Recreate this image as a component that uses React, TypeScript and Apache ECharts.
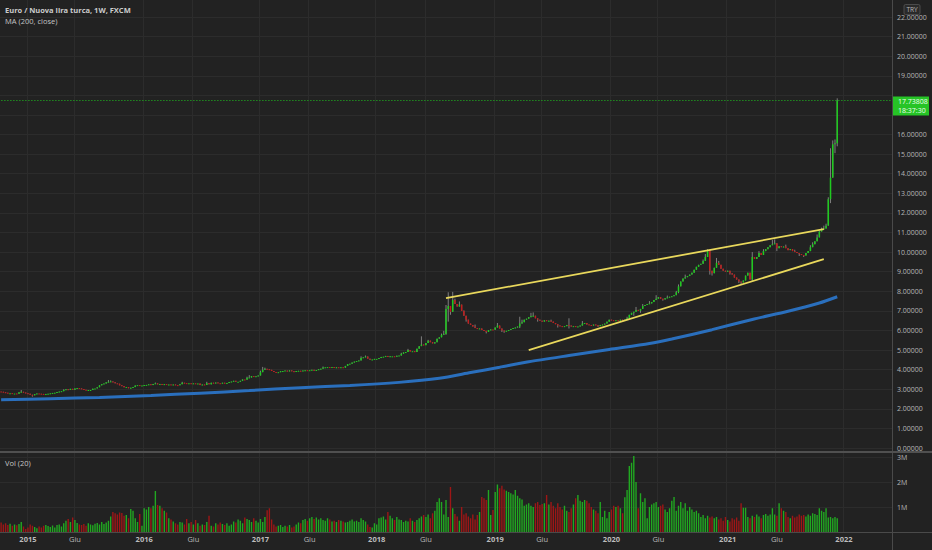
import React, { useEffect, useRef } from 'react';
import * as echarts from 'echarts';

const FONT = '"Open Sans", "Noto Sans", "Liberation Sans", sans-serif';

// ---- data ----
const START_UTC = Date.UTC(2014, 9, 13); // first weekly bar (Mon 13 Oct 2014)
const WEEK_SLOTS = 399; // axis extends past the last bar

const tickIndex = [12, 33, 64, 86, 116, 138, 168, 190, 221, 242, 273, 294, 325, 347, 377];
const tickText = ['2015', 'Giu', '2016', 'Giu', '2017', 'Giu', '2018', 'Giu', '2019', 'Giu', '2020', 'Giu', '2021', 'Giu', '2022'];

const firstOpen = 2.88;
const closes = [
  2.87, 2.85, 2.82, 2.80, 2.80, 2.78, 2.78, 2.77, 2.84, 2.87,
  2.83, 2.80, 2.77, 2.72, 2.69, 2.75, 2.78, 2.77, 2.76, 2.75,
  2.76, 2.77, 2.79, 2.81, 2.82, 2.86, 2.88, 2.90, 2.96, 3.00,
  2.96, 3.02, 2.97, 3.04, 3.06, 3.04, 3.01, 2.97, 2.95, 2.96,
  2.96, 3.03, 3.04, 3.10, 3.20, 3.26, 3.29, 3.35, 3.38, 3.40,
  3.36, 3.30, 3.28, 3.20, 3.16, 3.10, 3.11, 3.05, 3.08, 3.11,
  3.19, 3.21, 3.18, 3.19, 3.21, 3.22, 3.25, 3.21, 3.27, 3.30,
  3.25, 3.27, 3.23, 3.26, 3.23, 3.24, 3.22, 3.24, 3.21, 3.20,
  3.26, 3.33, 3.31, 3.30, 3.30, 3.28, 3.30, 3.28, 3.29, 3.21,
  3.24, 3.22, 3.31, 3.25, 3.33, 3.30, 3.34, 3.31, 3.30, 3.33,
  3.31, 3.32, 3.37, 3.39, 3.43, 3.38, 3.38, 3.43, 3.50, 3.49,
  3.58, 3.60, 3.67, 3.63, 3.66, 3.70, 3.87, 3.99, 4.04, 4.02,
  3.99, 3.93, 3.88, 3.86, 3.87, 3.92, 3.93, 3.95, 3.91, 3.96,
  3.92, 3.88, 3.93, 3.94, 3.92, 3.95, 3.97, 3.96, 3.97, 3.99,
  3.94, 3.98, 4.02, 4.05, 4.11, 4.12, 4.13, 4.12, 4.13, 4.08,
  4.12, 4.10, 4.12, 4.10, 4.19, 4.28, 4.30, 4.36, 4.41, 4.44,
  4.47, 4.60, 4.63, 4.67, 4.56, 4.50, 4.52, 4.55, 4.55, 4.59,
  4.65, 4.66, 4.70, 4.65, 4.68, 4.68, 4.66, 4.71, 4.72, 4.81,
  4.88, 4.90, 5.00, 4.93, 4.94, 4.90, 5.07, 5.20, 5.28, 5.25,
  5.36, 5.48, 5.40, 5.34, 5.40, 5.58, 5.65, 5.78, 5.82, 7.10,
  7.25, 6.95, 7.55, 7.35, 7.22, 7.32, 7.00, 6.75, 6.55, 6.35,
  6.28, 6.20, 6.12, 6.08, 6.10, 6.02, 5.98, 5.92, 6.02, 6.05,
  6.04, 6.15, 6.25, 6.10, 6.00, 5.96, 5.98, 6.02, 6.08, 6.12,
  6.15, 6.20, 6.35, 6.42, 6.55, 6.60, 6.68, 6.72, 6.75, 6.62,
  6.55, 6.50, 6.45, 6.52, 6.48, 6.50, 6.45, 6.38, 6.32, 6.25,
  6.22, 6.20, 6.22, 6.28, 6.25, 6.20, 6.22, 6.18, 6.20, 6.25,
  6.35, 6.38, 6.30, 6.28, 6.25, 6.30, 6.27, 6.22, 6.28, 6.30,
  6.35, 6.45, 6.55, 6.52, 6.50, 6.52, 6.50, 6.55, 6.50, 6.55,
  6.62, 6.80, 6.90, 6.95, 7.05, 7.00, 7.10, 7.25, 7.30, 7.35,
  7.38, 7.45, 7.55, 7.62, 7.70, 7.62, 7.58, 7.65, 7.68, 7.72,
  7.75, 7.80, 7.95, 8.25, 8.50, 8.65, 8.72, 8.78, 8.85, 8.95,
  9.10, 9.25, 9.35, 9.40, 9.55, 9.75, 10.10, 9.05, 8.92, 9.20,
  9.45, 9.35, 9.15, 9.05, 9.00, 9.05, 8.92, 8.85, 8.70, 8.60,
  8.50, 8.45, 8.55, 8.80, 8.95, 8.60, 9.75, 9.65, 9.75, 9.95,
  9.85, 10.05, 10.15, 10.25, 10.35, 10.40, 10.45, 10.20, 10.30, 10.25,
  10.28, 10.20, 10.10, 10.15, 10.05, 10.00, 9.95, 9.90, 9.85, 9.82,
  9.95, 10.05, 10.25, 10.40, 10.55, 10.75, 11.05, 11.15, 11.20, 11.35,
  12.70, 13.80, 15.50, 15.55, 17.73808,
];

// visible wick extremes [bar index, price]
const highMarks = [
  [9, 2.96], [28, 3.00], [48, 3.47], [49, 3.45], [69, 3.34], [81, 3.38], [92, 3.38],
  [110, 3.64], [111, 3.72], [116, 3.95], [117, 4.14], [118, 4.10], [144, 4.16], [161, 4.68],
  [163, 4.72], [179, 4.86], [182, 5.06], [188, 5.70], [191, 5.52], [197, 5.84], [198, 5.98],
  [199, 7.30], [200, 7.95], [202, 7.97], [203, 7.62], [205, 7.48], [207, 7.02], [212, 6.30],
  [222, 6.38], [232, 6.70], [233, 6.55], [237, 6.90], [238, 6.92], [246, 6.55], [254, 6.62],
  [260, 6.48], [280, 6.70], [284, 7.20], [287, 7.35], [290, 7.50], [293, 7.80], [298, 7.78],
  [302, 8.02], [303, 8.35], [306, 8.85], [314, 9.62], [315, 9.90], [316, 10.15], [317, 10.00],
  [320, 9.70], [321, 9.55], [336, 10.00], [339, 10.05], [341, 10.15], [345, 10.62], [346, 10.65],
  [351, 10.38], [355, 10.12], [362, 10.35], [363, 10.50], [365, 10.90], [366, 11.10], [367, 11.25],
  [368, 11.35], [369, 11.45], [370, 12.80], [371, 15.30], [372, 15.70], [373, 15.75], [374, 17.85],
];
const lowMarks = [
  [14, 2.62], [199, 5.78], [200, 6.45], [201, 6.80], [208, 6.45], [217, 5.85], [224, 5.92],
  [225, 5.88], [232, 6.12], [240, 6.45], [249, 6.15], [254, 6.10], [267, 6.18], [283, 6.75],
  [286, 6.90], [296, 7.52], [303, 7.90], [317, 8.85], [318, 8.80], [326, 8.85], [330, 8.42],
  [331, 8.35], [336, 8.50], [347, 10.05], [357, 9.80], [359, 9.75], [371, 12.50], [373, 15.05],
  [374, 15.40],
];

// weekly volume, millions
const volumes = [
  0.38, 0.30, 0.35, 0.28, 0.33, 0.25, 0.30, 0.27, 0.32, 0.40,
  0.22, 0.12, 0.18, 0.30, 0.25, 0.20, 0.15, 0.22, 0.18, 0.25,
  0.28, 0.24, 0.20, 0.26, 0.18, 0.28, 0.30, 0.22, 0.35, 0.45,
  0.52, 0.40, 0.58, 0.48, 0.36, 0.30, 0.28, 0.32, 0.25, 0.35,
  0.30, 0.27, 0.33, 0.36, 0.30, 0.40, 0.32, 0.38, 0.45, 0.62,
  0.80, 0.75, 0.70, 0.78, 0.76, 0.65, 0.68, 0.55, 0.92, 0.85,
  0.55, 0.40, 0.72, 0.25, 0.95, 0.90, 1.00, 0.95, 1.05, 1.64,
  1.08, 1.05, 0.95, 0.85, 0.78, 0.55, 0.50, 0.42, 0.35, 0.30,
  0.40, 0.38, 0.30, 0.52, 0.35, 0.40, 0.30, 0.48, 0.35, 0.25,
  0.30, 0.28, 0.40, 0.65, 0.25, 0.22, 0.35, 0.30, 0.38, 0.32,
  0.28, 0.35, 0.25, 0.30, 0.42, 0.38, 0.50, 0.45, 0.35, 0.58,
  0.52, 0.48, 0.40, 0.55, 0.45, 0.38, 0.52, 0.40, 0.60, 0.87,
  0.95, 0.50, 0.30, 0.22, 0.25, 0.28, 0.20, 0.25, 0.22, 0.28,
  0.18, 0.22, 0.30, 0.38, 0.35, 0.48, 0.52, 0.45, 0.55, 0.60,
  0.52, 0.58, 0.50, 0.55, 0.48, 0.45, 0.55, 0.50, 0.42, 0.45,
  0.40, 0.48, 0.45, 0.42, 0.38, 0.40, 0.45, 0.50, 0.42, 0.45,
  0.40, 0.55, 0.48, 0.42, 0.30, 0.20, 0.18, 0.35, 0.30, 0.55,
  0.58, 0.62, 0.50, 0.80, 0.65, 0.55, 0.48, 0.60, 0.50, 0.48,
  0.40, 0.45, 0.42, 0.55, 0.45, 0.40, 0.48, 0.55, 0.62, 0.68,
  0.60, 0.70, 0.55, 0.75, 0.85, 1.20, 1.35, 1.20, 0.70, 1.28,
  0.60, 1.80, 0.95, 0.72, 0.62, 0.45, 1.00, 0.70, 0.75, 0.62,
  0.55, 0.70, 0.50, 0.68, 0.80, 1.40, 1.35, 1.28, 1.68, 0.68,
  0.88, 1.60, 1.90, 1.75, 1.85, 1.70, 1.65, 1.60, 1.55, 1.50,
  1.68, 1.45, 1.35, 1.30, 1.05, 1.10, 1.15, 1.05, 1.00, 1.15,
  1.20, 1.08, 1.12, 1.15, 1.48, 1.10, 1.20, 1.05, 0.95, 1.15,
  1.00, 0.90, 1.05, 0.85, 0.80, 0.95, 1.10, 1.35, 1.48, 1.25,
  1.20, 1.28, 1.25, 1.15, 1.00, 0.90, 0.85, 0.75, 1.20, 0.60,
  0.85, 0.55, 0.80, 0.90, 1.05, 1.00, 1.05, 0.95, 0.75, 1.39,
  1.68, 2.64, 2.77, 3.04, 2.00, 0.95, 1.55, 1.20, 1.35, 0.55,
  1.00, 1.10, 1.15, 1.20, 1.00, 1.05, 1.10, 0.90, 0.80, 0.95,
  1.25, 1.40, 0.85, 1.05, 1.20, 0.95, 1.15, 0.85, 1.00, 0.90,
  0.80, 0.85, 0.75, 0.60, 0.68, 0.55, 0.65, 0.58, 0.62, 0.55,
  0.60, 0.50, 0.55, 0.45, 0.60, 0.48, 0.42, 0.55, 0.50, 0.58,
  0.45, 1.15, 0.97, 0.97, 0.60, 0.55, 0.65, 0.60, 0.70, 0.62,
  0.55, 0.68, 0.72, 0.65, 0.70, 0.95, 0.70, 0.65, 1.15, 0.95,
  0.85, 0.80, 0.60, 0.55, 0.65, 0.58, 0.62, 0.70, 0.65, 0.68,
  0.62, 0.70, 0.65, 0.75, 0.72, 0.68, 0.95, 0.85, 0.80, 0.95,
  0.58, 0.60, 0.55, 0.60, 0.55,
];

// MA(200, close) [bar index, value]
const maPoints = [
  [0, 2.46], [22, 2.52], [44, 2.58], [67, 2.68], [89, 2.80], [111, 2.93], [134, 3.08],
  [156, 3.19], [178, 3.35], [196, 3.56], [210, 3.85], [223, 4.12], [236, 4.40], [254, 4.72],
  [272, 5.03], [290, 5.33], [300, 5.56], [318, 6.04], [336, 6.56], [352, 6.98], [366, 7.40],
  [374, 7.72],
];

const upperTrend = [[199, 7.65], [368, 11.17]];
const lowerTrend = [[236, 5.0], [368, 9.64]];

const lastPrice = 17.73808;
const countdown = '18:37:30';
const titleText = 'Euro / Nuova lira turca, 1W, FXCM';

// ---- colors ----
const BG = '#222222';
const GRID = '#2c2c2c';
const AXIS_TEXT = '#b6b6b6';
const UP = '#1fca1f';
const DOWN = '#c21c1c';
const VOL_UP = '#21a821';
const VOL_DOWN = '#9e1616';
const WICK = '#7e7e7e';

function buildOption() {
  const categories: string[] = [];
  for (let i = 0; i < WEEK_SLOTS; i++) {
    categories.push(new Date(START_UTC + i * 7 * 86400000).toISOString().slice(0, 10));
  }
  const hMap = new Map<number, number>(highMarks.map((p) => [p[0], p[1]] as [number, number]));
  const lMap = new Map<number, number>(lowMarks.map((p) => [p[0], p[1]] as [number, number]));
  const candles = closes.map((c, i) => {
    const o = i === 0 ? firstOpen : closes[i - 1];
    const h = Math.max(hMap.get(i) ?? -Infinity, o, c);
    const l = Math.min(lMap.get(i) ?? Infinity, o, c);
    return [i, o, c, l, h];
  });
  const volData = volumes.map((v, i) => {
    const up = candles[i] ? candles[i][2] >= candles[i][1] : true;
    return { value: v, itemStyle: { color: up ? VOL_UP : VOL_DOWN } };
  });
  const tickSet = new Set(tickIndex);
  const tickMap = new Map<number, string>(tickIndex.map((t, k) => [t, tickText[k]] as [number, string]));

  return {
    animation: false,
    backgroundColor: BG,
    grid: [
      { left: 0, top: 17, width: 892, height: 431 },
      { left: 0, top: 452, width: 892, height: 80 },
      { left: 0, top: 0, width: 892, height: 532 },
    ],
    xAxis: [
      { type: 'category', gridIndex: 0, data: categories, show: false },
      { type: 'category', gridIndex: 1, data: categories, show: false },
      {
        type: 'category',
        gridIndex: 2,
        data: categories,
        position: 'bottom',
        axisLine: { show: false },
        axisTick: { show: false },
        splitLine: { show: true, interval: (idx: number) => tickSet.has(idx), lineStyle: { color: GRID, width: 1 } },
        axisLabel: {
          show: true,
          interval: (idx: number) => tickSet.has(idx),
          margin: 3,
          formatter: (_v: string, idx: number) => {
            const t = tickMap.get(idx) || '';
            return t === 'Giu' ? `{m|${t}}` : `{y|${t}}`;
          },
          rich: {
            y: { fontFamily: FONT, fontSize: 7.5, fontWeight: 'bold', color: '#bdbdbd' },
            m: { fontFamily: FONT, fontSize: 7.5, color: AXIS_TEXT },
          },
        },
      },
    ],
    yAxis: [
      {
        type: 'value',
        gridIndex: 0,
        position: 'right',
        min: 0,
        max: 22,
        interval: 1,
        axisLine: { show: false },
        axisTick: { show: false },
        splitLine: { show: true, lineStyle: { color: GRID, width: 1 } },
        axisLabel: {
          color: AXIS_TEXT,
          fontFamily: FONT,
          fontSize: 7,
          margin: 5,
          // labels under the last-price tag are covered by it
          formatter: (v: number) => (Math.abs(v - lastPrice) < 0.8 ? '' : v.toFixed(5)),
        },
      },
      {
        type: 'value',
        gridIndex: 1,
        position: 'right',
        min: 0,
        max: 3.2,
        interval: 1,
        axisLine: { show: false },
        axisTick: { show: false },
        splitLine: { show: true, lineStyle: { color: GRID, width: 1 } },
        axisLabel: {
          color: AXIS_TEXT,
          fontFamily: FONT,
          fontSize: 7,
          margin: 5,
          showMaxLabel: false,
          formatter: (v: number) => (v > 0 && Math.abs(v - Math.round(v)) < 1e-9 ? `${Math.round(v)}M` : ''),
        },
      },
      { type: 'value', gridIndex: 2, min: 0, max: 1, show: false, splitLine: { show: false } },
    ],
    series: [
      {
        type: 'line',
        name: 'MA',
        xAxisIndex: 0,
        yAxisIndex: 0,
        data: maPoints,
        showSymbol: false,
        symbol: 'none',
        smooth: 0.25,
        silent: true,
        lineStyle: { color: '#2a6fbd', width: 3 },
        z: 2,
      },
      {
        type: 'custom',
        name: 'EURTRY',
        xAxisIndex: 0,
        yAxisIndex: 0,
        data: candles,
        encode: { x: 0, y: [1, 2, 3, 4] },
        z: 3,
        renderItem: (_params: any, api: any) => {
          const idx = api.value(0);
          const o = api.value(1);
          const c = api.value(2);
          const l = api.value(3);
          const h = api.value(4);
          const pO = api.coord([idx, o]);
          const pC = api.coord([idx, c]);
          const pL = api.coord([idx, l]);
          const pH = api.coord([idx, h]);
          const bw = Math.max(1, api.size([1, 0])[0] * 0.68);
          const up = c >= o;
          const top = Math.min(pO[1], pC[1]);
          const hgt = Math.max(1, Math.abs(pO[1] - pC[1]));
          return {
            type: 'group',
            children: [
              {
                type: 'line',
                shape: { x1: pH[0], y1: pH[1], x2: pL[0], y2: pL[1] },
                style: { stroke: WICK, lineWidth: 1 },
              },
              {
                type: 'rect',
                shape: { x: pO[0] - bw / 2, y: top, width: bw, height: hgt },
                style: { fill: up ? UP : DOWN },
              },
            ],
          };
        },
      },
      {
        type: 'line',
        name: 'upper',
        xAxisIndex: 0,
        yAxisIndex: 0,
        data: upperTrend,
        symbol: 'none',
        silent: true,
        lineStyle: { color: '#e9d85c', width: 1.8 },
        z: 4,
      },
      {
        type: 'line',
        name: 'lower',
        xAxisIndex: 0,
        yAxisIndex: 0,
        data: lowerTrend,
        symbol: 'none',
        silent: true,
        lineStyle: { color: '#e9d85c', width: 1.8 },
        z: 4,
      },
      {
        type: 'line',
        name: 'price',
        xAxisIndex: 0,
        yAxisIndex: 0,
        data: [[0, lastPrice], [WEEK_SLOTS - 1, lastPrice]],
        symbol: 'none',
        silent: true,
        lineStyle: { color: '#1f8f1f', width: 1, type: [1.5, 1.5] },
        z: 1,
      },
      {
        type: 'bar',
        name: 'Vol',
        xAxisIndex: 1,
        yAxisIndex: 1,
        data: volData,
        barWidth: '62%',
        silent: true,
      },
    ],
  };
}

function makeGraphics(py: number) {
  const txt = (x: number, y: number, text: string, extra: any = {}) => ({
    type: 'text',
    x,
    y,
    silent: true,
    z: 20,
    style: { text, fill: '#c4c4c4', fontSize: 7.5, fontFamily: FONT, ...extra },
  });
  return [
    { type: 'line', silent: true, z: 10, shape: { x1: 892.5, y1: 0, x2: 892.5, y2: 550 }, style: { stroke: '#4a4a4a', lineWidth: 1 } },
    { type: 'line', silent: true, z: 10, shape: { x1: 0, y1: 452, x2: 932, y2: 452 }, style: { stroke: '#505050', lineWidth: 2 } },
    { type: 'line', silent: true, z: 10, shape: { x1: 0, y1: 532.5, x2: 932, y2: 532.5 }, style: { stroke: '#4a4a4a', lineWidth: 1 } },
    txt(5, 5.5, titleText, { fontWeight: 'bold', fill: '#cccccc' }),
    txt(5, 16.5, 'MA (200, close)'),
    txt(5, 459, 'Vol (20)'),
    {
      type: 'rect', silent: true, z: 20,
      shape: { x: 904, y: 4.5, width: 16, height: 10, r: 1.5 },
      style: { fill: '#2a2a2a', stroke: '#565656', lineWidth: 0.8 },
    },
    txt(912, 9.5, 'TRY', { fontSize: 6.5, fill: '#b8b8b8', align: 'center', verticalAlign: 'middle' }),
    {
      type: 'rect', silent: true, z: 20,
      shape: { x: 893, y: py - 4, width: 36, height: 19 },
      style: { fill: '#26c426' },
    },
    txt(898, py + 1, lastPrice.toFixed(5), { fontSize: 7, fill: '#eeffee', verticalAlign: 'middle' }),
    txt(898, py + 10, countdown, { fontSize: 7, fill: '#eeffee', verticalAlign: 'middle' }),
  ];
}

export default function App() {
  const ref = useRef<HTMLDivElement>(null);
  useEffect(() => {
    if (!ref.current) return;
    const chart = echarts.init(ref.current, null, { renderer: 'svg' });
    chart.setOption(buildOption() as any);
    const py = chart.convertToPixel({ yAxisIndex: 0 }, lastPrice) as unknown as number;
    chart.setOption({ graphic: makeGraphics(typeof py === 'number' ? py : 100) } as any);
    return () => chart.dispose();
  }, []);
  return (
    <div
      ref={ref}
      style={{ position: 'fixed', left: 0, top: 0, width: 932, height: 550, background: BG }}
    />
  );
}
